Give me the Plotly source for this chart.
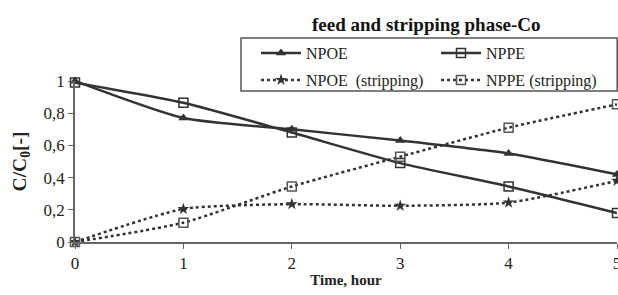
import plotly.graph_objects as go

time_h = [0, 1, 2, 3, 4, 5]
npoe = [1.0, 0.77, 0.70, 0.63, 0.55, 0.42]
nppe = [0.99, 0.865, 0.68, 0.49, 0.345, 0.18]
npoe_strip = [0.0, 0.205, 0.235, 0.225, 0.245, 0.38]
nppe_strip = [0.0, 0.12, 0.345, 0.53, 0.71, 0.855]
names = ["NPOE", "NPPE", "NPOE  (stripping)", "NPPE (stripping)"]
y_ticks = [0, 0.2, 0.4, 0.6, 0.8, 1]

col = "#333333"
serif = "Liberation Serif, Times New Roman, serif"

# figure geometry (page body margin removed below)
W, H = 618, 295
L, T = 75, 81
R = W - 617
B = H - 242
pw, ph = W - L - R, H - T - B
def px_x(x): return (x - L) / pw
def px_y(y): return (H - B - y) / ph

fig = go.Figure()
fig.add_trace(go.Scatter(x=time_h, y=npoe, name=names[0], mode="lines+markers", legend="legend",
                         line=dict(color=col, width=2.5, shape="spline", smoothing=0.6),
                         marker=dict(symbol="triangle-up", size=9, color=col), cliponaxis=False))
fig.add_trace(go.Scatter(x=time_h, y=nppe, name=names[1], mode="lines+markers", legend="legend",
                         line=dict(color=col, width=2.5, shape="spline", smoothing=0.6),
                         marker=dict(symbol="square-open", size=9, color=col, line=dict(width=1.5)), cliponaxis=False))
fig.add_trace(go.Scatter(x=time_h, y=npoe_strip, name=names[2], mode="lines+markers", legend="legend2",
                         line=dict(color=col, width=2.5, dash="dot", shape="spline", smoothing=0.6),
                         marker=dict(symbol="star", size=9, color=col), cliponaxis=False))
fig.add_trace(go.Scatter(x=time_h, y=nppe_strip, name=names[3], mode="lines+markers", legend="legend2",
                         line=dict(color=col, width=2.5, dash="dot", shape="spline", smoothing=0.6),
                         marker=dict(symbol="square-open", size=9, color="#555555", line=dict(width=1.5)), cliponaxis=False))

leg_common = dict(orientation="h", xanchor="left", yanchor="middle", borderwidth=0,
                  bgcolor="rgba(0,0,0,0)", font=dict(family=serif, size=16, color="#222222"),
                  entrywidth=125, itemwidth=40)
fig.update_layout(
    width=W, height=H,
    margin=dict(l=L, r=R, t=T, b=B, autoexpand=False),
    paper_bgcolor="white", plot_bgcolor="white",
    separators=", ",
    font=dict(family=serif, color="#222222", size=15),
    showlegend=True,
    legend=dict(x=px_x(256), y=px_y(53), **leg_common),
    legend2=dict(x=px_x(256), y=px_y(80), **leg_common),
    shapes=[dict(type="rect", xref="paper", yref="paper", x0=px_x(241), x1=px_x(617.2),
                 y0=px_y(91), y1=px_y(38), line=dict(color="#555555", width=1.5), layer="above")],
    annotations=[dict(text="<b>feed and stripping phase-Co</b>", x=px_x(426), y=px_y(24),
                      xref="paper", yref="paper", xanchor="center", yanchor="middle", showarrow=False,
                      font=dict(family=serif, size=19, color="#111111"))],
)

fig.update_xaxes(range=[0, 5], tickvals=time_h, showline=True, linecolor="#666666", linewidth=1.5,
                 ticks="outside", ticklen=5, tickcolor="#666666", showgrid=False, zeroline=False,
                 automargin=False, ticklabeloverflow="allow", tickfont=dict(family=serif, size=17),
                 title=dict(text="<b>Time, hour</b>", font=dict(family=serif, size=15), standoff=2))
fig.update_yaxes(range=[0, 1], tickvals=y_ticks, tickformat=".1~f", showline=True, linecolor="#666666", linewidth=1.5,
                 ticks="outside", ticklen=5, tickcolor="#666666", showgrid=False, zeroline=False,
                 automargin=False, tickfont=dict(family=serif, size=17),
                 title=dict(text="<b>C/C<sub>0</sub>[-]</b>", font=dict(family=serif, size=19.5), standoff=12))

fig.write_html("out.html", config={"displayModeBar": False},
               post_script="document.body.style.margin='0';document.body.style.overflow='hidden';")
